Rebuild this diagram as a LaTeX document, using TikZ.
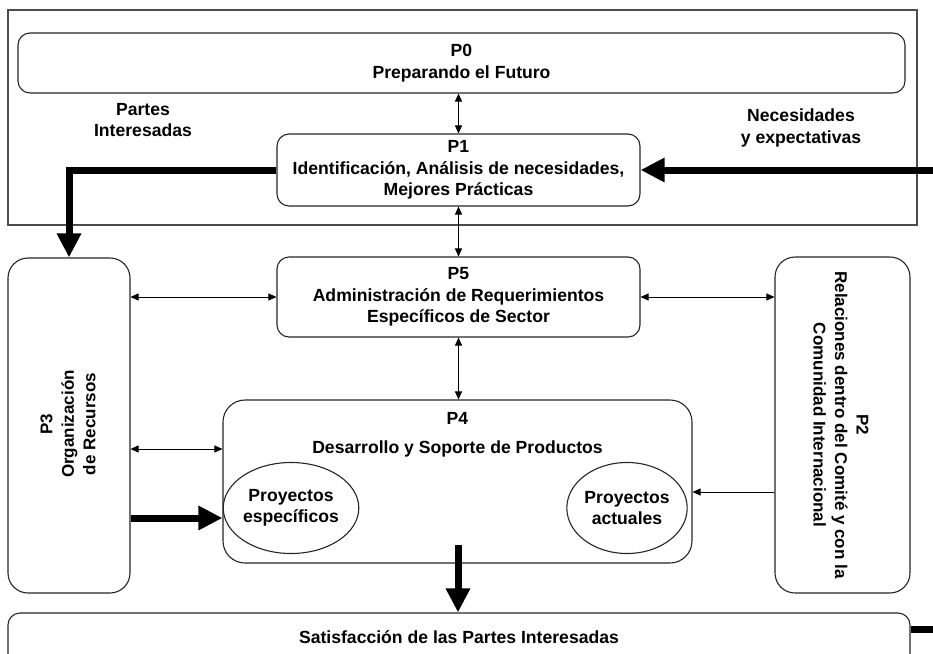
\documentclass[tikz,border=0pt]{standalone}
\usepackage{fontspec}
\setmainfont{Liberation Sans}
\usetikzlibrary{arrows.meta,shapes.geometric}

\begin{document}
\begin{tikzpicture}[x=1pt,y=-1pt,
  txt/.style={font=\fontsize{17.6}{21.5}\selectfont\bfseries, align=center, inner sep=0pt},
  vtxt/.style={txt, font=\fontsize{17}{21.5}\selectfont\bfseries},
  box/.style={draw=black!85, line width=1.1pt, rounded corners=12pt, inner sep=0pt, fill=white},
  bigbox/.style={box, rounded corners=22pt},
  proj/.style={ellipse, draw=black!85, line width=1.1pt, inner sep=0pt,
    minimum width=112pt, minimum height=91pt, txt},
  frame/.style={draw=black!70, line width=1.4pt, inner sep=0pt},
  dbl/.style={line width=0.9pt, {Triangle[length=8pt,width=7pt]}-{Triangle[length=8pt,width=7pt]}},
  sgl/.style={line width=0.9pt, -{Triangle[length=8pt,width=7pt]}},
  heavy/.style={line width=7pt, -{Triangle[length=24pt,width=23pt]}},
  heavyline/.style={line width=7pt}]

\useasboundingbox (0,0) rectangle (933,653);
\fill[white] (0,0) rectangle (933,653);

% upper frame with P0 and P1
\node[frame, minimum width=909pt, minimum height=215pt] (frame) at (462.5,117.5) {};
\node[box, minimum width=887pt, minimum height=60pt, txt] (p0) at (461.5,63)
  {P0\\Preparando el Futuro};
\node[box, minimum width=363pt, minimum height=72pt, txt] (p1) at (458.5,170)
  {P1\\Identificación, Análisis de necesidades,\\Mejores Prácticas};
\node[txt] (partes) at (143,120) {Partes\\Interesadas};
\node[txt] (needs) at (801,128) {Necesidades\\y expectativas};

% middle row
\node[box, minimum width=363pt, minimum height=80pt, txt] (p5) at (458.5,297)
  {P5\\Administración de Requerimientos\\Específicos de Sector};
\node[box, rounded corners=20pt, minimum width=122pt, minimum height=335pt] (p3) at (69,425.5) {};
\node[vtxt, rotate=90] (p3t) at (68,424) {P3\\Organización\\de Recursos};
\node[box, rounded corners=20pt, minimum width=135pt, minimum height=336pt] (p2) at (842.5,425) {};
\node[vtxt, rotate=-90] (p2t) at (841,425) {P2\\Relaciones dentro del Comité y con la\\Comunidad Internacional};

% product development
\node[bigbox, minimum width=469pt, minimum height=163pt] (p4) at (457.5,481.5) {};
\node[txt] (p4t) at (457.5,418) {P4};
\node[txt] (p4s) at (457.5,449) {Desarrollo y Soporte de Productos};
\node[proj] (pesp) at (291,508) {Proyectos\\específicos};
\node[proj] (pact) at (627,508) {Proyectos\\actuales};

% bottom bar
\node[box, minimum width=902pt, minimum height=60pt] (sat) at (459,643) {};
\node[txt] (satt) at (459,637) {Satisfacción de las Partes Interesadas};

% free ends at the picture edge
\coordinate (inR) at (933,170);
\coordinate (outR) at (933,629);
\coordinate (p4out) at (458,545);

% thin links
\draw[dbl] (p0.south -| p1) -- (p1.north);
\draw[dbl] (p1) -- (p5);
\draw[dbl] (p5) -- (p4.north -| p5);
\draw[dbl] (p3.east |- p5) -- (p5.west);
\draw[dbl] (p5.east) -- (p2.west |- p5);
\draw[dbl] (p3.east |- p4s) -- (p4.west |- p4s);
\draw[sgl] (p2.west |- 0,492) -- (p4.east |- 0,492);

% heavy flows
\draw[heavy] (inR) -- (p1.east);
\draw[heavy] (p1.west) -| (p3.north);
\draw[heavy] (p3.east |- 0,518) -- (p4.west |- 0,518);
\draw[heavy] (p4out) -- (sat.north -| p4out);
\draw[heavyline] (sat.east |- outR) -- (outR);
\end{tikzpicture}
\end{document}
